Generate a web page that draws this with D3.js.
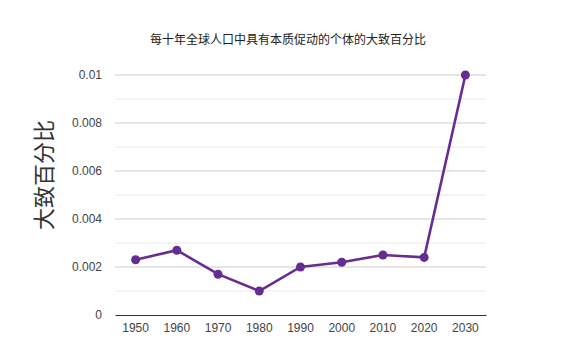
<!DOCTYPE html>
<html>
<head>
<meta charset="utf-8">
<script src="https://cdn.jsdelivr.net/npm/d3@7"></script>
<style>
    body { margin: 0; background: #fff; }
    text { font-family: Arial, "Liberation Sans", "Noto Sans CJK SC", sans-serif; }
</style>
</head>
<body>
<div id="chart"></div>
<script>
const years = ['1950', '1960', '1970', '1980', '1990', '2000', '2010', '2020', '2030'];
const shares = [0.0023, 0.0027, 0.0017, 0.001, 0.002, 0.0022, 0.0025, 0.0024, 0.01];
const yTicks = [0, 0.002, 0.004, 0.006, 0.008, 0.01];
const gridTicks = [0.001, 0.002, 0.003, 0.004, 0.005, 0.006, 0.007, 0.008, 0.009, 0.01];

const titleText = '每十年全球人口中具有本质促动的个体的大致百分比';
const yTitle = '大致百分比';

const width = 577;
const height = 352;
const margin = { top: 75, right: 91, bottom: 37, left: 115 };

const svg = d3.select('#chart')
    .append('svg')
    .attr('width', width)
    .attr('height', height);

const x = d3.scaleBand()
    .domain(years)
    .range([margin.left, width - margin.right]);

const y = d3.scaleLinear()
    .domain([0, 0.01])
    .range([height - margin.bottom, margin.top]);

// Gridlines
svg.append('g')
    .selectAll('line')
    .data(gridTicks)
    .join('line')
    .attr('x1', margin.left)
    .attr('x2', width - margin.right)
    .attr('y1', d => y(d))
    .attr('y2', d => y(d))
    .attr('stroke', (d, i) => i % 2 === 1 ? '#cccccc' : '#e8e8e8')
    .attr('stroke-width', 1);

// Y axis labels
const yAxis = svg.append('g')
    .attr('transform', `translate(${margin.left},0)`)
    .call(d3.axisLeft(y).tickValues(yTicks).tickFormat(d => d === 0 ? '0' : String(+d.toFixed(3))).tickSize(0).tickPadding(13));
yAxis.select('.domain').remove();
yAxis.selectAll('text')
    .attr('font-size', 12)
    .attr('fill', '#444');

// X axis
const xAxis = svg.append('g')
    .attr('transform', `translate(0,${height - margin.bottom})`)
    .call(d3.axisBottom(x).tickSize(0).tickPadding(8));
xAxis.select('.domain').attr('stroke', '#333');
xAxis.selectAll('text')
    .attr('font-size', 12)
    .attr('fill', '#444');

// Line
const line = d3.line()
    .x((d, i) => x(years[i]) + x.bandwidth() / 2)
    .y(d => y(d));

svg.append('path')
    .datum(shares)
    .attr('fill', 'none')
    .attr('stroke', '#662d91')
    .attr('stroke-width', 2.6)
    .attr('d', line);

svg.append('g')
    .selectAll('circle')
    .data(shares)
    .join('circle')
    .attr('cx', (d, i) => x(years[i]) + x.bandwidth() / 2)
    .attr('cy', d => y(d))
    .attr('r', 4.5)
    .attr('fill', '#662d91');

// Title
svg.append('text')
    .attr('x', 288)
    .attr('y', 44)
    .attr('text-anchor', 'middle')
    .attr('font-size', 12)
    .attr('fill', '#222')
    .text(titleText);

// Y axis title
svg.append('text')
    .attr('transform', `translate(52,${(margin.top + height - margin.bottom) / 2 - 20}) rotate(-90)`)
    .attr('text-anchor', 'middle')
    .attr('font-size', 22)
    .attr('fill', '#333')
    .text(yTitle);
</script>
</body>
</html>
